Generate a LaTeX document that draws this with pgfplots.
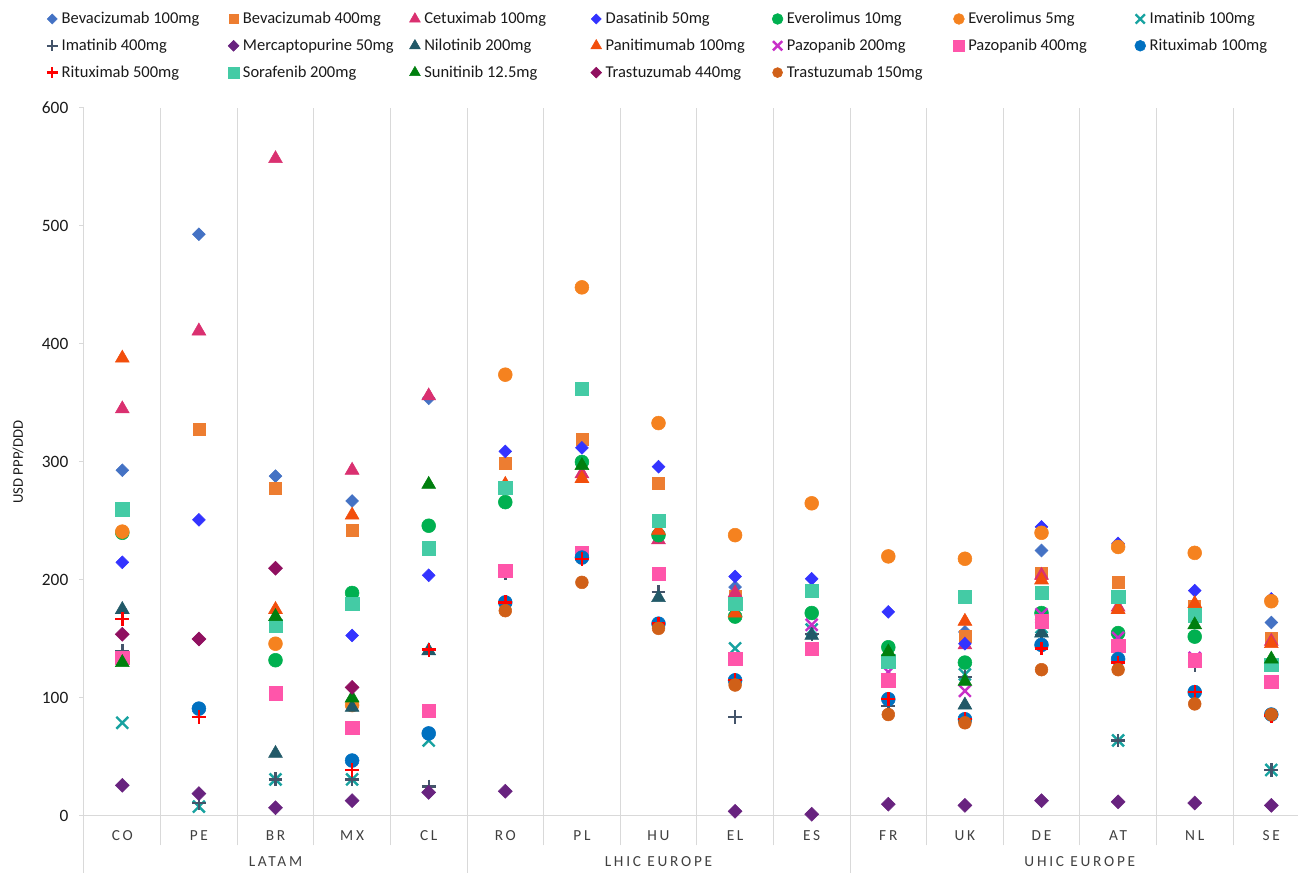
\documentclass[border=0pt]{standalone}
\usepackage{fontspec}
\setmainfont{Carlito}
\newfontfamily\spacedfont[LetterSpace=18]{Carlito}
\usepackage{pgfplots}
\pgfplotsset{compat=1.18}
\definecolor{gridc}{HTML}{D9D9D9}
\definecolor{tickc}{HTML}{404040}
\definecolor{legc}{HTML}{1A1A1A}
\definecolor{cBevA}{HTML}{4472C4}
\definecolor{cBevB}{HTML}{ED7D31}
\definecolor{cCet}{HTML}{DA3070}
\definecolor{cDas}{HTML}{3333FF}
\definecolor{cEvA}{HTML}{00B050}
\definecolor{cEvB}{HTML}{F5821F}
\definecolor{cImA}{HTML}{17A2A0}
\definecolor{cImB}{HTML}{44546A}
\definecolor{cMer}{HTML}{68237F}
\definecolor{cNil}{HTML}{215968}
\definecolor{cPan}{HTML}{F24E0C}
\definecolor{cPzA}{HTML}{C830C8}
\definecolor{cPzB}{HTML}{FF55AA}
\definecolor{cRiA}{HTML}{0070C0}
\definecolor{cRiB}{HTML}{FF0000}
\definecolor{cSor}{HTML}{44CBA5}
\definecolor{cSun}{HTML}{007F0E}
\definecolor{cTrA}{HTML}{901060}
\definecolor{cTrB}{HTML}{D06018}
\pgfplotsset{
 lg/.style={legend image code/.code={\path[draw=none,fill=none] (-5pt,-3pt) rectangle (5pt,3pt);\draw[##1,every mark/.append style={scale=0.78}] plot coordinates {(0pt,0pt)};}},
 sCirc/.style={only marks, mark=*, mark size=5.2pt, color=#1, lg},
 sSq/.style={only marks, mark=square*, mark size=5pt, color=#1, lg},
 sTri/.style={only marks, mark=triangle*, mark size=6pt, color=#1, lg},
 sDia/.style={only marks, mark=square*, mark size=3.4pt, mark options={rotate=45}, color=#1, lg},
 sX/.style={only marks, mark=x, mark size=6.3pt, mark options={line width=1.8pt}, color=#1, lg},
 sPlus/.style={only marks, mark=+, mark size=5.2pt, mark options={line width=1.8pt}, color=#1, lg},
}
\newcommand{\legE}[1]{\addlegendentry{\makebox[122pt][l]{#1}}}
\begin{document}
\begin{tikzpicture}
\begin{axis}[
 name=ax, at={(0,0)}, anchor=south west,
 scale only axis, width=919.2pt, height=531pt,
 xmin=-0.5, xmax=15.5, ymin=0, ymax=600,
 clip=false,
 axis x line*=bottom, axis y line*=left,
 axis line style={draw=gridc, line width=0.75pt, -},
 xtick={0,...,15},
 xticklabels={CO,PE,BR,MX,CL,RO,PL,HU,EL,ES,FR,UK,DE,AT,NL,SE},
 minor xtick={-0.5,0.5,...,15.5},
 xminorgrids=true,
 minor grid style={draw=gridc, line width=0.75pt},
 minor x tick style={draw=gridc, line width=0.75pt},
 minor tick length=22pt,
 x tick style={draw=none},
 major tick length=3.75pt,
 tick align=outside,
 ytick={0,100,...,600},
 y tick style={draw=gridc, line width=0.75pt},
 extra x ticks={-0.5,4.5,9.5},
 extra x tick labels={},
 extra x tick style={major tick length=43pt, x tick style={draw=gridc, line width=0.75pt}, grid=none},
 /pgf/number format/assume math mode=true,
 yticklabel style={font=\fontsize{13}{15}\selectfont, text=legc, xshift=-4.5pt},
 xticklabel style={font=\spacedfont\fontsize{11.5}{13}\selectfont, text=tickc, yshift=-4pt},
 ylabel={USD PPP/DDD},
 every axis y label/.style={at={(axis description cs:-0.05385,0.5)}, rotate=90, anchor=center, font=\fontsize{11}{13}\selectfont, text=legc},
 legend columns=7,
 legend cell align=left,
 legend style={draw=none, fill=none, inner sep=0pt, at={(-0.03155,1.1394)}, anchor=north west, font=\fontsize{12.4}{14}\selectfont, row sep=6pt, nodes={inner sep=2pt, text=legc}},
]
\addplot[sDia=cBevA] coordinates {(0,293)(1,493)(2,288)(3,267)(4,354)(8,194)(11,156)(12,225)(15,164)}; \legE{Bevacizumab 100mg}
\addplot[sSq=cBevB, mark size=4.5pt] coordinates {(1,328)(2,278)(3,242)(5,299)(6,319)(7,282)(8,186)(11,152)(12,206)(13,198)(14,178)(15,151)}; \legE{Bevacizumab 400mg}
\addplot[sTri=cCet] coordinates {(0,345)(1,411)(2,557)(3,293)(4,356)(6,290)(7,234)(8,189)(11,145)(12,204)(13,177)(15,148)}; \legE{Cetuximab 100mg}
\addplot[sDia=cDas] coordinates {(0,215)(1,251)(3,153)(4,204)(5,309)(6,312)(7,296)(8,203)(9,201)(10,173)(11,146)(12,245)(13,231)(14,191)(15,184)}; \legE{Dasatinib 50mg}
\addplot[sCirc=cEvA] coordinates {(0,240)(2,132)(3,189)(4,246)(5,266)(6,300)(7,238)(8,169)(9,172)(10,143)(11,130)(12,172)(13,155)(14,152)}; \legE{Everolimus 10mg}
\addplot[sCirc=cEvB] coordinates {(0,241)(2,146)(3,94)(5,374)(6,448)(7,333)(8,238)(9,265)(10,220)(11,218)(12,240)(13,228)(14,223)(15,182)}; \legE{Everolimus 5mg}
\addplot[sX=cImA] coordinates {(0,79)(1,8)(2,31)(3,31)(4,64)(8,142)(9,158)(11,120)(12,160)(13,64)(15,39)}; \legE{Imatinib 100mg}
\addplot[sPlus=cImB] coordinates {(0,140)(1,11)(2,31)(3,31)(4,25)(5,206)(7,190)(8,84)(9,154)(10,93)(11,118)(12,153)(13,64)(14,128)(15,39)}; \legE{Imatinib 400mg}
\addplot[sDia=cMer, mark size=3.7pt] coordinates {(0,26)(1,19)(2,7)(3,13)(4,20)(5,21)(8,4)(9,1.5)(10,10)(11,9)(12,13)(13,12)(14,11)(15,9)}; \legE{Mercaptopurine 50mg}
\addplot[sTri=cNil] coordinates {(0,175)(2,53)(3,92)(4,140)(7,185)(9,153)(11,94)(12,155)}; \legE{Nilotinib 200mg}
\addplot[sTri=cPan] coordinates {(0,388)(2,175)(3,255)(5,281)(6,286)(7,242)(8,172)(11,165)(12,200)(13,175)(14,180)(15,146)}; \legE{Panitimumab 100mg}
\addplot[sX=cPzA] coordinates {(9,162)(10,122)(11,106)(12,171)(13,151)(14,134)}; \legE{Pazopanib 200mg}
\addplot[sSq=cPzB] coordinates {(0,134)(2,104)(3,75)(4,89)(5,208)(6,223)(7,205)(8,133)(9,142)(10,115)(12,165)(13,144)(14,132)(15,114)}; \legE{Pazopanib 400mg}
\addplot[sCirc=cRiA] coordinates {(1,91)(3,47)(4,70)(5,181)(6,219)(7,163)(8,115)(10,99)(11,82)(12,145)(13,133)(14,105)(15,86)}; \legE{Rituximab 100mg}
\addplot[sPlus=cRiB] coordinates {(0,167)(1,84)(3,39)(4,141)(5,181)(6,218)(7,163)(8,115)(10,99)(11,82)(12,142)(13,130)(14,105)(15,85)}; \legE{Rituximab 500mg}
\addplot[sSq=cSor] coordinates {(0,260)(2,161)(3,180)(4,227)(5,278)(6,362)(7,250)(8,180)(9,191)(10,131)(11,186)(12,189)(13,186)(14,170)(15,128)}; \legE{Sorafenib 200mg}
\addplot[sTri=cSun] coordinates {(0,130)(2,169)(3,100)(4,281)(6,297)(10,139)(11,114)(14,162)(15,133)}; \legE{Sunitinib 12.5mg}
\addplot[sDia=cTrA, mark size=3.7pt] coordinates {(0,154)(1,150)(2,210)(3,109)}; \legE{Trastuzumab 440mg}
\addplot[sCirc=cTrB, mark size=4.8pt] coordinates {(5,174)(6,198)(7,159)(8,111)(10,86)(11,79)(12,124)(13,124)(14,95)(15,86)}; \legE{Trastuzumab 150mg}
\node[font=\spacedfont\fontsize{11.5}{13}\selectfont, text=tickc] at (axis cs:2,0) [yshift=-34.5pt] {LATAM};
\node[font=\spacedfont\fontsize{11.5}{13}\selectfont, text=tickc] at (axis cs:7,0) [yshift=-34.5pt] {LHIC EUROPE};
\node[font=\spacedfont\fontsize{11.5}{13}\selectfont, text=tickc] at (axis cs:12.5,0) [yshift=-34.5pt] {UHIC EUROPE};
\end{axis}
\pgfresetboundingbox
\path[use as bounding box] (-63pt,-42.75pt) rectangle (910.5pt,612pt);
\end{tikzpicture}
\end{document}
